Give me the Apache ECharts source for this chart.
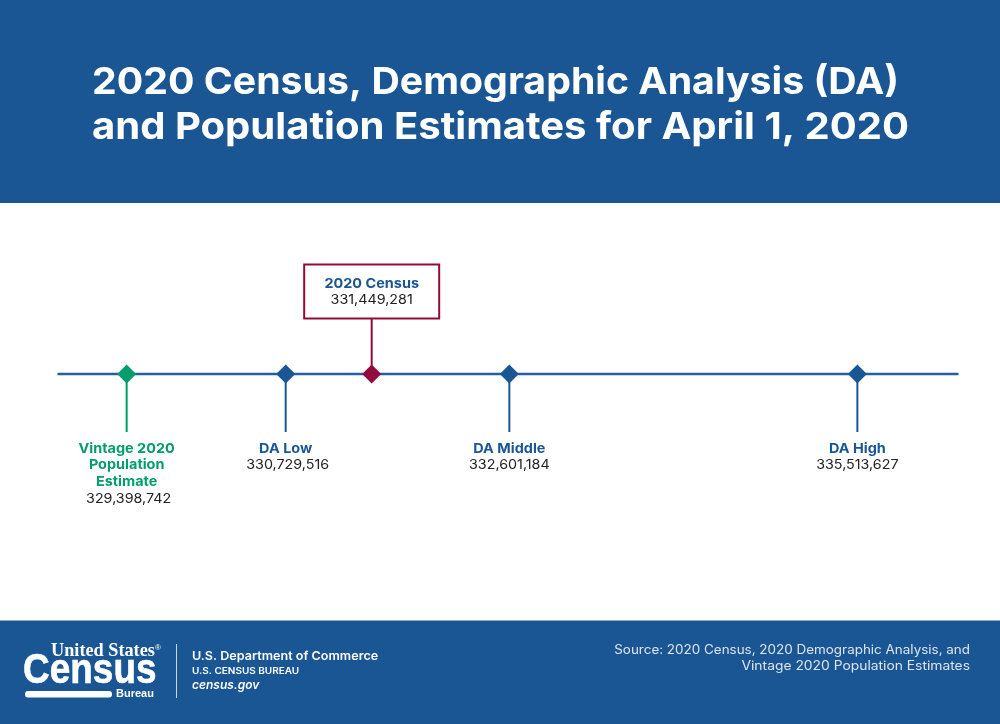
<!DOCTYPE html>
<html>
<head>
<meta charset="utf-8">
<style>html,body{margin:0;padding:0;background:#fff}#main{width:1000px;height:724px}</style>
<script src="https://cdn.jsdelivr.net/npm/echarts@6/dist/echarts.min.js"></script>
</head>
<body>
<div id="main"></div>
<script>
// data
var names = [['Vintage 2020', 'Population', 'Estimate'], ['DA Low'], ['2020 Census'], ['DA Middle'], ['DA High']];
var values = [329398742, 330729516, 331449281, 332601184, 335513627];
var groups = ['vintage', 'da', 'census', 'da', 'da'];

var BLUE = '#1a5694';
var GREEN = '#009e6b';
var RED = '#930a3e';
var FONT = 'Inter, "Open Sans", sans-serif';
var markColor = { vintage: GREEN, da: BLUE, census: RED };
var nameColor = { vintage: GREEN, da: BLUE, census: BLUE };

function fmt(n) { return String(n).replace(/\B(?=(\d{3})+$)/g, ','); }

// the original face is wider than anything installed, so stretch the text a bit
function wideText(x, y, text, font, fill, sx, align) {
  return {
    type: 'text', x: x, y: y, scaleX: sx,
    style: { x: 0, y: 0, text: text, font: font, fill: fill, align: align || 'left', verticalAlign: 'middle' }
  };
}

function renderMark(params, api) {
  var i = api.value(2);
  var p = api.coord([api.value(0), 0]);
  var x = p[0], y = p[1];
  var g = groups[i];
  var kids = [];
  var up = g === 'census';
  kids.push({
    type: 'line',
    shape: { x1: x, y1: y, x2: x, y2: up ? y - 56 : y + 58 },
    style: { stroke: markColor[g], lineWidth: 2 }
  });
  kids.push({
    type: 'polygon',
    shape: { points: [[x, y - 9.5], [x + 9.5, y], [x, y + 9.5], [x - 9.5, y]] },
    style: { fill: markColor[g] }
  });
  if (up) {
    kids.push({
      type: 'rect',
      shape: { x: x - 67.5, y: y - 109.5, width: 135, height: 54 },
      style: { fill: '#fff', stroke: RED, lineWidth: 2 }
    });
  }
  var top = up ? y - 90.5 : y + 74.5;
  names[i].forEach(function (line, k) {
    kids.push(wideText(x, top + k * 16.8, line, '700 13.5px ' + FONT, nameColor[g], 1.07, 'center'));
  });
  kids.push(wideText(x + (i < 2 ? 2 : 0), top + names[i].length * 16.8, fmt(values[i]), '400 13.5px ' + FONT, '#222', 1.06, 'center'));
  return { type: 'group', children: kids };
}

var chart = echarts.init(document.getElementById('main'));
chart.setOption({
  animation: false,
  grid: { left: 57.5, width: 901, top: 203, height: 342 },
  xAxis: {
    type: 'value', min: 328820000, max: 336360000,
    axisLine: { show: false }, axisTick: { show: false }, axisLabel: { show: false }, splitLine: { show: false }
  },
  yAxis: {
    type: 'value', min: -171, max: 171,
    axisLine: { show: false }, axisTick: { show: false }, axisLabel: { show: false }, splitLine: { show: false }
  },
  graphic: [
    { type: 'rect', shape: { x: 0, y: 0, width: 1000, height: 203 }, style: { fill: BLUE } },
    { type: 'rect', shape: { x: 0, y: 620.5, width: 1000, height: 104 }, style: { fill: BLUE } },
    wideText(92, 82.5, '2020 Census, Demographic Analysis (DA)', '700 37.5px ' + FONT, '#fff', 1.047),
    wideText(92, 127.5, 'and Population Estimates for April 1, 2020', '700 37.5px ' + FONT, '#fff', 1.068),
    // logo
    wideText(51, 651, 'United States', '700 19px "Liberation Serif", serif', '#fff', 0.96),
    { type: 'text', style: { x: 155, y: 648, text: '®', verticalAlign: 'middle', fill: '#fff', font: '400 8px "Liberation Sans", sans-serif' } },
    {
      type: 'text', x: 23, y: 671, scaleX: 0.88,
      style: { x: 0, y: 0, text: 'Census', verticalAlign: 'middle', fill: '#fff', stroke: '#fff', lineWidth: 0.6, font: '700 42px "Liberation Sans Narrow", "Liberation Sans", sans-serif' }
    },
    { type: 'rect', shape: { x: 25, y: 691, width: 87, height: 6.5, r: 3 }, style: { fill: '#fff' } },
    { type: 'text', style: { x: 116, y: 694, text: 'Bureau', verticalAlign: 'middle', fill: '#fff', font: '700 11px "Liberation Sans Narrow", "Liberation Sans", sans-serif' } },
    { type: 'line', shape: { x1: 176.5, y1: 644, x2: 176.5, y2: 698 }, style: { stroke: '#c9d6e6', lineWidth: 1 } },
    wideText(192, 656.5, 'U.S. Department of Commerce', '600 12px ' + FONT, '#fff', 1.05),
    wideText(192, 671, 'U.S. CENSUS BUREAU', '600 9px ' + FONT, '#fff', 1.11),
    { type: 'text', style: { x: 192, y: 685, text: 'census.gov', verticalAlign: 'middle', fill: '#fff', font: 'italic 600 12px ' + FONT } },
    wideText(970, 650, 'Source: 2020 Census, 2020 Demographic Analysis, and', '400 12.5px ' + FONT, '#dbe4ef', 1.075, 'right'),
    wideText(970, 666, 'Vintage 2020 Population Estimates', '400 12.5px ' + FONT, '#dbe4ef', 1.108, 'right')
  ],
  series: [
    {
      type: 'line', silent: true, symbol: 'none', z: 1,
      data: [[328820000, 0], [336360000, 0]],
      lineStyle: { color: '#24609e', width: 2.4 }
    },
    {
      type: 'custom', z: 2, silent: true,
      data: values.map(function (v, i) { return [v, 0, i]; }),
      renderItem: renderMark
    }
  ]
});
</script>
</body>
</html>
